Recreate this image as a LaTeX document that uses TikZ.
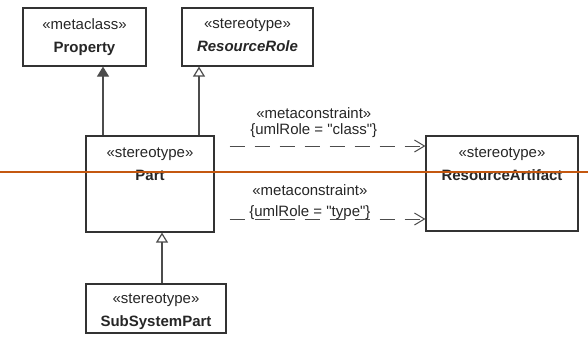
\documentclass[tikz,border=0pt]{standalone}
\usepackage{fontspec}
\setmainfont{Liberation Sans}[Ligatures=TeXOff]
\usetikzlibrary{
	arrows.meta,
	positioning
}
\definecolor{rule}{RGB}{196,88,16}

\begin{document}
\begin{tikzpicture}[
			x=1pt, y=1pt,
			font=\fontsize{15}{23}\selectfont,
			box/.style={
				rectangle,
				draw=black!80,
				line width=1.2pt,
				inner sep=0pt
			},
			title/.style={
				align=center,
				inner sep=0pt,
				text=black!85
			},
			gen/.style={
				draw=black!70,
				line width=1.2pt,
				-{Triangle[open,length=10pt,width=12pt]}
			},
			ext/.style={
				draw=black!70,
				line width=1.2pt,
				-{Triangle[length=10pt,width=12pt,fill=black!70]}
			},
			dep/.style={
				draw=black!70,
				line width=1pt,
				dash pattern=on 15pt off 10pt,
				-{Straight Barb[length=10pt,width=12pt]}
			}
			]
			\useasboundingbox (0,0) rectangle (588,-338);
			
			% class boxes
			\node[box, minimum width=123, minimum height=58] (prop) at (84.5,-37) {};
			\node[title, below=11pt of prop.north] (propT) {«metaclass»\\\textbf{Property}};
			
			\node[box, minimum width=131, minimum height=58] (role) at (247.5,-37) {};
			\node[title, below=11pt of role.north] (roleT) {«stereotype»\\\textbf{\itshape ResourceRole}};
			
			\node[box, minimum width=128, minimum height=96] (part) at (150,-184) {};
			\node[title, below=12pt of part.north] (partT) {«stereotype»\\\textbf{Part}};
			
			\node[box, minimum width=152, minimum height=95] (art) at (502,-183.5) {};
			\node[title, below=12pt of art.north] (artT) {«stereotype»\\\textbf{ResourceArtifact}};
			
			\node[box, minimum width=140, minimum height=49] (sub) at (156,-308.5) {};
			\node[title, below=10pt of sub.north] (subT) {«stereotype»\\\textbf{SubSystemPart}};
			
			% generalisations
			\draw[ext] ([xshift=-47pt]part.north) -- ([xshift=-47pt]part.north |- prop.south);
			\draw[gen] ([xshift=49pt]part.north) -- ([xshift=49pt]part.north |- role.south);
			\draw[gen] ([xshift=6pt]sub.north) -- ([xshift=6pt]sub.north |- part.south);
			
			% metaconstraints
			\draw[dep] ([xshift=15pt,yshift=38pt]part.east) coordinate (d1)
				-- (d1 -| art.west)
				node[pos=0.43, above=5pt, align=center, font=\fontsize{15}{16}\selectfont, text=black!85] (lc1)
				{«metaconstraint»\\\{umlRole = "class"\}};
			\draw[dep] ([xshift=15pt,yshift=-35pt]part.east) coordinate (d2)
				-- (d2 -| art.west)
				node[pos=0.41, above=-4pt, align=center, font=\fontsize{15}{21}\selectfont, text=black!85] (lc2)
				{«metaconstraint»\\\{umlRole = "type"\}};
			
			% cut line across the sheet
			\draw[rule, line width=2pt] (0,-172) coordinate (cutL) -- (588,-172) coordinate (cutR);
			
		\end{tikzpicture}
\end{document}
